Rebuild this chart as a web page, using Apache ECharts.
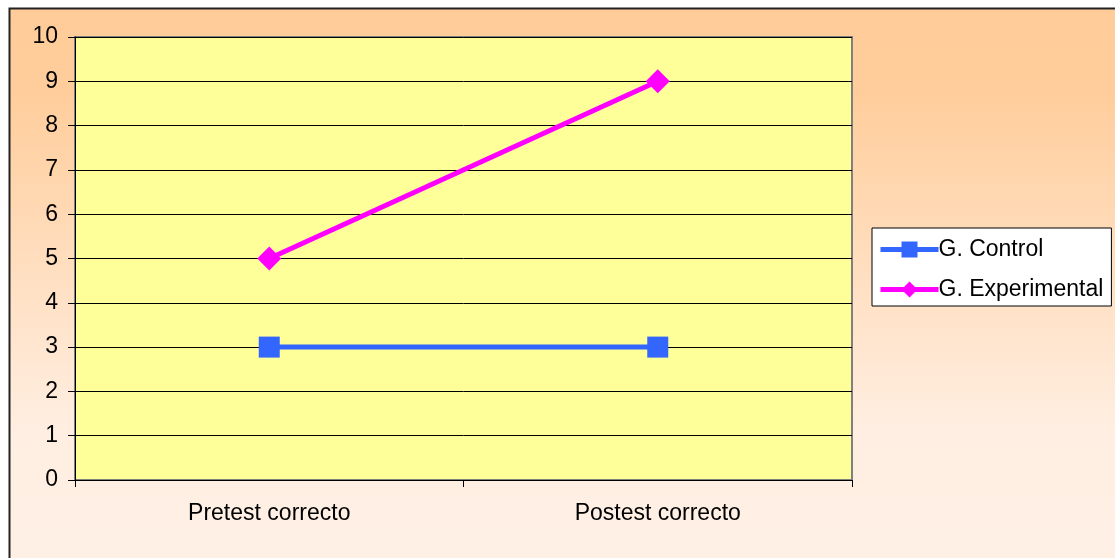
<!DOCTYPE html>
<html>
<head>
<meta charset="utf-8">
<script src="https://cdn.jsdelivr.net/npm/echarts@6/dist/echarts.min.js"></script>
<style>
  html, body { margin: 0; padding: 0; background: #ffffff; }
  #chart { width: 1115px; height: 558px; }
</style>
</head>
<body>
<div id="chart"></div>
<script>
// Categories and series values
const categories = ['Pretest correcto', 'Postest correcto'];
const controlValues = [3, 3];
const experimentalValues = [5, 9];
const yTicks = { min: 0, max: 10, interval: 1 };

const chart = echarts.init(document.getElementById('chart'), null, { renderer: 'canvas' });
const font = '"Liberation Sans", Arial, sans-serif';

chart.setOption({
  animation: false,
  graphic: [
    {
      type: 'rect',
      z: -10,
      shape: { x: 9.5, y: 8.5, width: 1120, height: 560 },
      style: {
        fill: new echarts.graphic.LinearGradient(0, 0, 0, 1, [
          { offset: 0, color: '#FFCC99' },
          { offset: 0.15, color: '#FFCD9B' },
          { offset: 0.75, color: '#FFEEE1' },
          { offset: 1, color: '#FFF0E6' }
        ]),
        stroke: '#222222',
        lineWidth: 2
      }
    }
  ],
  grid: {
    left: 75, top: 37, width: 777, height: 443,
    show: true,
    backgroundColor: '#FFFF99',
    borderColor: '#808080',
    borderWidth: 2
  },
  legend: {
    orient: 'vertical',
    left: 872, top: 228,
    height: 200,
    padding: [10, 8, 5, 6],
    itemGap: 17,
    itemWidth: 58, itemHeight: 20,
    backgroundColor: '#FFFFFF',
    borderColor: '#000000',
    borderWidth: 1,
    borderRadius: 0,
    lineStyle: { width: 5 },
    textStyle: { fontFamily: font, fontSize: 23, color: '#000000', padding: [0, 0, 0, -5] },
    data: ['G. Control', 'G. Experimental']
  },
  xAxis: {
    type: 'category',
    data: categories,
    boundaryGap: true,
    axisLine: { lineStyle: { color: '#000000', width: 1 } },
    axisTick: { show: true, length: 7, lineStyle: { color: '#000000' } },
    axisLabel: { fontFamily: font, fontSize: 23, color: '#000000', margin: 22 },
    splitLine: { show: false }
  },
  yAxis: {
    type: 'value',
    min: yTicks.min, max: yTicks.max, interval: yTicks.interval,
    axisLine: { show: true, lineStyle: { color: '#000000', width: 1 } },
    axisTick: { show: true, length: 7, lineStyle: { color: '#000000' } },
    axisLabel: { fontFamily: font, fontSize: 23, color: '#000000', margin: 17 },
    splitLine: { show: true, lineStyle: { color: '#000000', width: 1 } }
  },
  series: [
    {
      name: 'G. Control',
      type: 'line',
      data: controlValues,
      symbol: 'rect',
      symbolSize: 21,
      color: '#3366FF',
      lineStyle: { width: 5, color: '#3366FF' },
      itemStyle: { color: '#3366FF' },
      z: 3
    },
    {
      name: 'G. Experimental',
      type: 'line',
      data: experimentalValues,
      symbol: 'diamond',
      symbolSize: 24,
      color: '#FF00FF',
      lineStyle: { width: 5, color: '#FF00FF' },
      itemStyle: { color: '#FF00FF' },
      z: 4
    }
  ]
});
</script>
</body>
</html>
